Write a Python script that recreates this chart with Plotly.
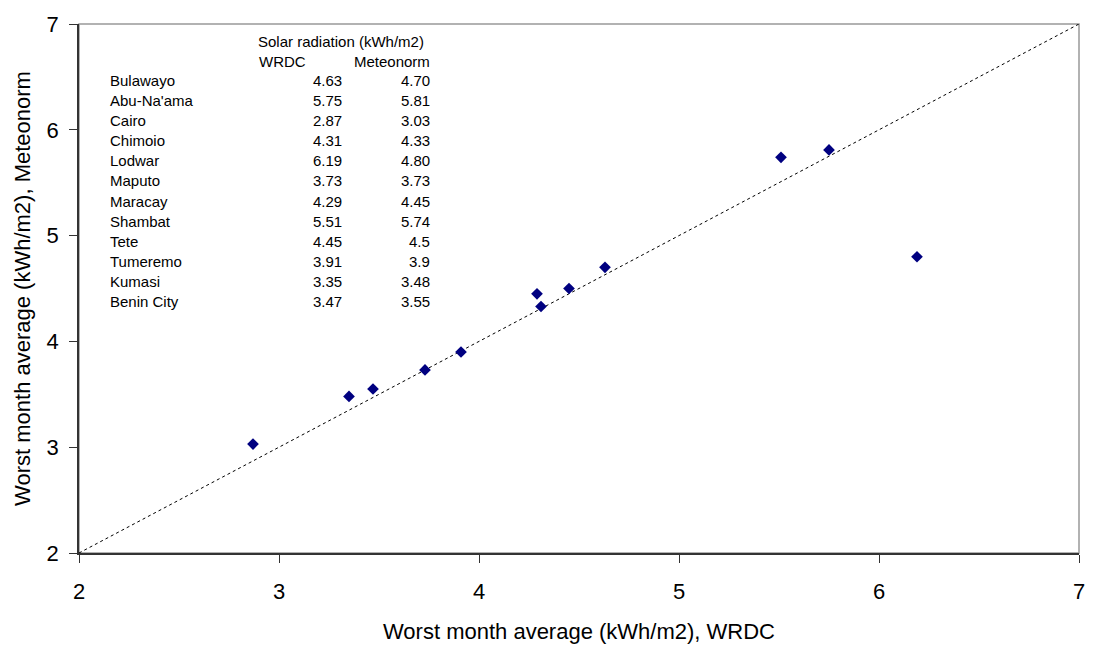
import plotly.graph_objects as go

sites = ["Bulawayo", "Abu-Na'ama", "Cairo", "Chimoio", "Lodwar", "Maputo",
         "Maracay", "Shambat", "Tete", "Tumeremo", "Kumasi", "Benin City"]
wrdc = [4.63, 5.75, 2.87, 4.31, 6.19, 3.73, 4.29, 5.51, 4.45, 3.91, 3.35, 3.47]
meteonorm = [4.70, 5.81, 3.03, 4.33, 4.80, 3.73, 4.45, 5.74, 4.5, 3.9, 3.48, 3.55]
wrdc_text = ["4.63", "5.75", "2.87", "4.31", "6.19", "3.73", "4.29", "5.51", "4.45", "3.91", "3.35", "3.47"]
meteonorm_text = ["4.70", "5.81", "3.03", "4.33", "4.80", "3.73", "4.45", "5.74", "4.5", "3.9", "3.48", "3.55"]
line_xy = [2, 7]
ticks = [2, 3, 4, 5, 6, 7]

FONT = "Liberation Sans"

# plot-area pixel geometry
L, R, T, B = 79, 1085, 17, 557
W, H = R - L, B - T

def px(x):
    return (x - L) / W

def py(y):
    return (B - y) / H

fig = go.Figure()
fig.add_trace(go.Scatter(x=line_xy, y=line_xy, mode="lines",
                         line=dict(color="black", width=1, dash="3px,3px"),
                         hoverinfo="skip", showlegend=False))
fig.add_trace(go.Scatter(x=wrdc, y=meteonorm, mode="markers",
                         marker=dict(symbol="diamond", size=9, color="#000080",
                                     line=dict(width=0)),
                         text=sites, showlegend=False))

ann = []
fs = 15
ann.append(dict(x=px(257), y=py(35), xref="paper", yref="paper", text="Solar radiation (kWh/m2)",
                xanchor="left", yanchor="middle", showarrow=False, width=174, align="left",
                font=dict(family=FONT, size=fs, color="black")))
ann.append(dict(x=px(258), y=py(55), xref="paper", yref="paper", text="WRDC",
                xanchor="left", yanchor="middle", showarrow=False,
                font=dict(family=FONT, size=fs, color="black")))
ann.append(dict(x=px(434), y=py(55), xref="paper", yref="paper", text="Meteonorm",
                xanchor="right", yanchor="middle", showarrow=False,
                font=dict(family=FONT, size=fs, color="black")))
for i, s in enumerate(sites):
    yy = py(75 + i * 20.45)
    ann.append(dict(x=px(108), y=yy, xref="paper", yref="paper", text=s,
                    xanchor="left", yanchor="middle", showarrow=False,
                    font=dict(family=FONT, size=fs, color="black")))
    ann.append(dict(x=px(346), y=yy, xref="paper", yref="paper", text=wrdc_text[i],
                    xanchor="right", yanchor="middle", showarrow=False,
                    font=dict(family=FONT, size=fs, color="black")))
    ann.append(dict(x=px(434), y=yy, xref="paper", yref="paper", text=meteonorm_text[i],
                    xanchor="right", yanchor="middle", showarrow=False,
                    font=dict(family=FONT, size=fs, color="black")))

fig.update_layout(
    width=1097, height=652,
    margin=dict(l=L, r=1097 - R, t=T, b=652 - B),
    paper_bgcolor="white", plot_bgcolor="white",
    font=dict(family=FONT, color="black"),
    annotations=ann,
    shapes=[dict(type="rect", xref="paper", yref="paper", x0=0, x1=1, y0=0, y1=1,
                 line=dict(color="#999999", width=1.5), layer="below")],
    xaxis=dict(range=[2, 7], tickvals=ticks, showgrid=False, zeroline=False,
               showline=True, linecolor="#333333", linewidth=1.5,
               ticks="outside", ticklen=8, tickcolor="#333333",
               ticklabelstandoff=10,
               tickfont=dict(size=22, family=FONT, color="black"),
               title=dict(text="Worst month average (kWh/m2), WRDC",
                          font=dict(size=22, family=FONT, color="black"), standoff=20)),
    yaxis=dict(range=[2, 7], tickvals=ticks, showgrid=False, zeroline=False,
               showline=True, linecolor="#333333", linewidth=1.5,
               ticks="outside", ticklen=8, tickcolor="#333333",
               ticklabelstandoff=6,
               tickfont=dict(size=22, family=FONT, color="black"),
               title=dict(text="Worst month average (kWh/m2), Meteonorm",
                          font=dict(size=22, family=FONT, color="black"), standoff=10)),
)

fig.write_html("out.html")
